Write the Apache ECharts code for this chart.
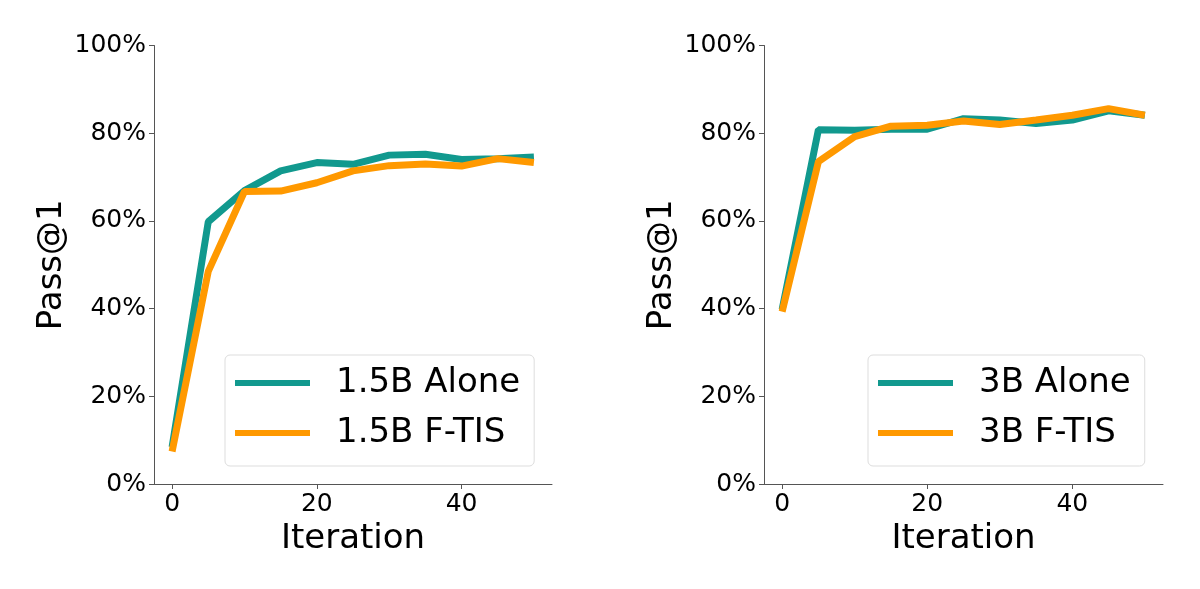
<!DOCTYPE html>
<html>
<head>
<meta charset="utf-8">
<script src="https://cdn.jsdelivr.net/npm/echarts@6/dist/echarts.min.js"></script>
<style>
  html, body { margin: 0; padding: 0; background: #fff; }
  #chart { width: 1200px; height: 589px; }
</style>
</head>
<body>
<div id="chart"></div>
<script>
// iteration steps (x axis)
var iterations = [0, 5, 10, 15, 20, 25, 30, 35, 40, 45, 50];
var xTicks = [0, 20, 40];

// left panel: 1.5B
var alone15 = [8.4, 59.8, 66.9, 71.4, 73.3, 72.9, 75.0, 75.2, 74.0, 74.2, 74.6];
var ftis15  = [7.4, 48.5, 66.7, 66.8, 68.7, 71.4, 72.6, 73.0, 72.5, 74.2, 73.3];

// right panel: 3B
var alone3 = [39.8, 80.8, 80.7, 80.9, 80.9, 83.3, 83.0, 82.2, 83.0, 85.1, 84.1];
var ftis3  = [39.3, 73.5, 79.2, 81.6, 81.8, 82.8, 82.0, 83.0, 84.1, 85.6, 84.1];

var names = ['1.5B Alone', '1.5B F-TIS', '3B Alone', '3B F-TIS'];
var teal = '#11998e', orange = '#ff9900';
var font = 'DejaVu Sans';

function pairs(ys) {
  return iterations.map(function (x, i) { return [x, ys[i]]; });
}

function xAxisFor(idx) {
  return {
    type: 'value', gridIndex: idx, min: -2.5, max: 52.5,
    name: 'Iteration', nameLocation: 'middle', nameGap: 30,
    nameTextStyle: { fontFamily: font, fontSize: 34, color: '#000' },
    axisLine: { show: true, onZero: false, lineStyle: { color: '#555', width: 1 } },
    axisTick: { show: true, inside: false, length: 5, customValues: xTicks, lineStyle: { color: '#555' } },
    axisLabel: { customValues: xTicks, margin: 8, fontFamily: font, fontSize: 25, color: '#000' },
    splitLine: { show: false }
  };
}

function yAxisFor(idx) {
  return {
    type: 'value', gridIndex: idx, min: 0, max: 100, interval: 20,
    name: 'Pass@1', nameLocation: 'middle', nameGap: 85,
    nameTextStyle: { fontFamily: font, fontSize: 34, color: '#000' },
    axisLine: { show: true, onZero: false, lineStyle: { color: '#555', width: 1 } },
    axisTick: { show: true, inside: false, length: 5, lineStyle: { color: '#555' } },
    axisLabel: { formatter: '{value}%', margin: 8, fontFamily: font, fontSize: 25, color: '#000' },
    splitLine: { show: false }
  };
}

function lineSeries(name, idx, ys, color) {
  return {
    name: name, type: 'line', xAxisIndex: idx, yAxisIndex: idx,
    data: pairs(ys), showSymbol: false, symbol: 'none',
    lineStyle: { color: color, width: 7 }, itemStyle: { color: color },
    animation: false
  };
}

function legendFor(left, data) {
  return {
    left: left, top: 355, orient: 'vertical',
    data: data, icon: 'rect', itemWidth: 75, itemHeight: 6, itemGap: 12,
    padding: [9, 14, 14, 10],
    backgroundColor: 'rgba(255,255,255,0.8)',
    borderColor: '#dddddd', borderWidth: 1, borderRadius: 5,
    textStyle: { fontFamily: font, fontSize: 34, color: '#000', lineHeight: 38, padding: [0, 0, 0, 21] }
  };
}

var chart = echarts.init(document.getElementById('chart'));
chart.setOption({
  backgroundColor: '#fff',
  animation: false,
  grid: [
    { left: 154, top: 45.5, width: 398, height: 438.5 },
    { left: 764, top: 45.5, width: 399, height: 438.5 }
  ],
  xAxis: [xAxisFor(0), xAxisFor(1)],
  yAxis: [yAxisFor(0), yAxisFor(1)],
  legend: [
    legendFor(225, [names[0], names[1]]),
    legendFor(868, [names[2], names[3]])
  ],
  series: [
    lineSeries(names[0], 0, alone15, teal),
    lineSeries(names[1], 0, ftis15, orange),
    lineSeries(names[2], 1, alone3, teal),
    lineSeries(names[3], 1, ftis3, orange)
  ]
});
</script>
</body>
</html>
